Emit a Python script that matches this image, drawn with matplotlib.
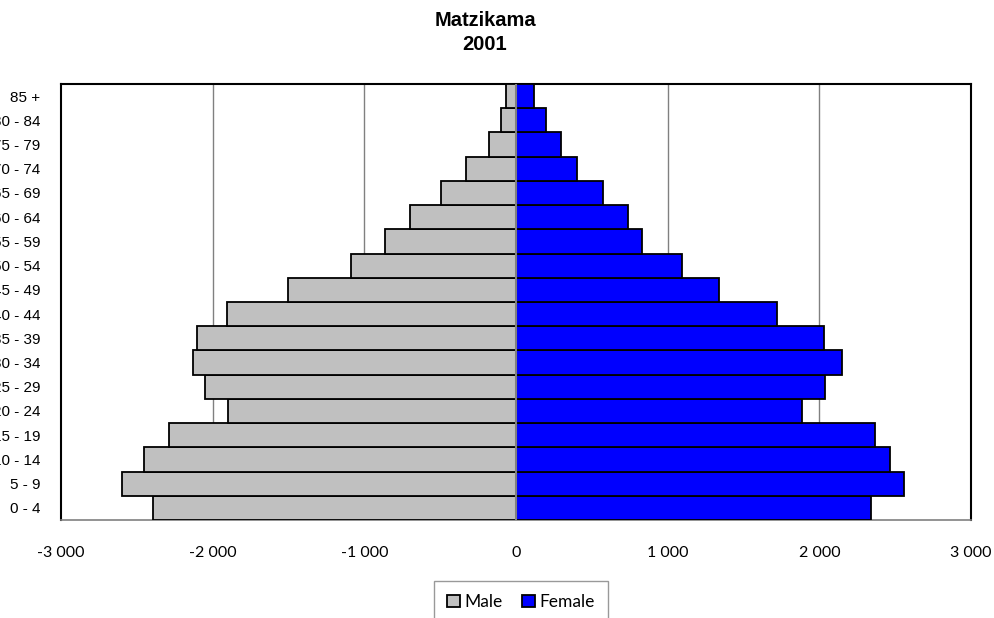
import numpy as np
import matplotlib
matplotlib.use("Agg")
import matplotlib.pyplot as plt
from matplotlib.ticker import FuncFormatter

plt.rcParams['font.family'] = ['Liberation Sans', 'DejaVu Sans']

###
### Data
###
age_groups = ["0 - 4", "5 - 9", "10 - 14", "15 - 19", "20 - 24", "25 - 29",
              "30 - 34", "35 - 39", "40 - 44", "45 - 49", "50 - 54", "55 - 59",
              "60 - 64", "65 - 69", "70 - 74", "75 - 79", "80 - 84", "85 +"]
male   = [2393, 2596, 2450, 2291, 1899, 2053, 2128, 2106, 1903, 1505,
          1086, 863, 697, 492, 327, 181, 99, 66]
female = [2340, 2555, 2463, 2368, 1886, 2039, 2149, 2033, 1721, 1338,
          1092, 833, 737, 572, 399, 294, 195, 120]
xticks = [-3000, -2000, -1000, 0, 1000, 2000, 3000]

###
### Figure
###
fig = plt.figure(figsize=(9.94, 6.18), dpi=100)
ax = fig.add_axes([61/994, 1-520/618, (971-61)/994, (520-84)/618])

y = np.arange(len(age_groups))
ax.barh(y, [-m for m in male], height=1.0, color='#C0C0C0',
        edgecolor='black', linewidth=1.3, label='Male', zorder=3)
ax.barh(y, female, height=1.0, color='#0000FF',
        edgecolor='black', linewidth=1.3, label='Female', zorder=3)

ax.set_xlim(-3000, 3000)
ax.set_ylim(-0.5, len(age_groups) - 0.5)
ax.set_xticks(xticks)
ax.xaxis.set_major_formatter(FuncFormatter(lambda v, p: f"{int(v):,}".replace(",", " ")))
ax.set_yticks(y)
ax.set_yticklabels(age_groups)
ax.tick_params(axis='y', length=0, pad=15, labelsize=11)
ax.tick_params(axis='x', length=0, pad=19, labelsize=11.5)
for lbl in ax.get_xticklabels():
    lbl.set_family(['Lato', 'DejaVu Sans'])

# gridlines and zero axis
for g in [-2000, -1000, 1000, 2000]:
    ax.axvline(g, color='#808080', linewidth=1.0, zorder=1)
ax.axvline(0, color='#808080', linewidth=1.5, zorder=4)

for side in ['top', 'left', 'right']:
    ax.spines[side].set_color('black')
    ax.spines[side].set_linewidth(1.5)
ax.spines['bottom'].set_color('#808080')
ax.spines['bottom'].set_linewidth(1.2)

###
### Title
###
fig.text(485/994, 1-20/618, "Matzikama", ha='center', va='center',
         fontsize=14.5, fontweight='bold')
fig.text(485/994, 1-44.5/618, "2001", ha='center', va='center',
         fontsize=14.5, fontweight='bold')

###
### Legend
###
leg = fig.legend(loc='upper center', bbox_to_anchor=(521/994, 1-581/618),
                 ncol=2, frameon=True, fancybox=False, edgecolor='#808080',
                 prop={'family': 'Lato', 'size': 12.5}, handlelength=0.75,
                 handleheight=0.75, handletextpad=0.25, columnspacing=1.1,
                 borderpad=0.75, borderaxespad=0)
leg.get_frame().set_linewidth(1.0)

fig.savefig("out.png", dpi=100)
